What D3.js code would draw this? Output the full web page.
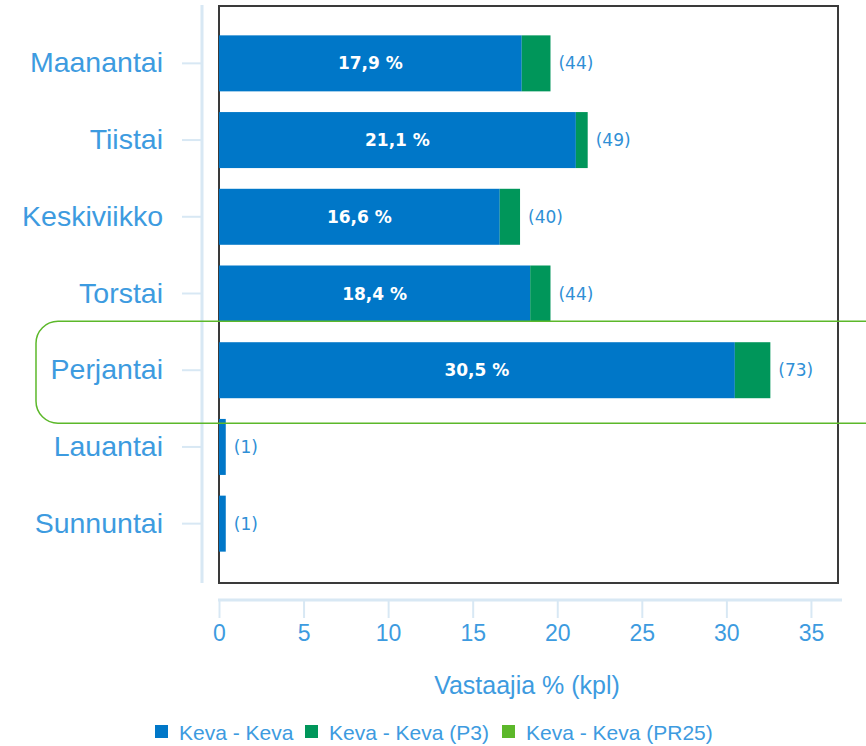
<!DOCTYPE html>
<html>
<head>
<meta charset="utf-8">
<script src="https://cdn.jsdelivr.net/npm/d3@7"></script>
<style>
  body { margin: 0; background: #fff; }
  svg { display: block; }
</style>
</head>
<body>
<div id="graph"></div>
<script>
// data
const days = ["Maanantai", "Tiistai", "Keskiviikko", "Torstai", "Perjantai", "Lauantai", "Sunnuntai"];
const kevaKeva = [17.9, 21.1, 16.6, 18.4, 30.5, 0.4, 0.4];
const kevaP3 = [1.7, 0.7, 1.2, 1.2, 2.1, 0, 0];
const kevaPR25 = [0, 0, 0, 0, 0, 0, 0];
const counts = [44, 49, 40, 44, 73, 1, 1];
const xTicks = [0, 5, 10, 15, 20, 25, 30, 35];
const seriesNames = ["Keva - Keva", "Keva - Keva (P3)", "Keva - Keva (PR25)"];
const seriesColors = ["#0077c8", "#00965a", "#5cb82a"];
const highlightDay = "Perjantai";

const width = 866, height = 746;
const box = { left: 219, top: 6, right: 838, bottom: 583 };
const textBlue = "#3d9be0";
const axisBlue = "#d8e8f4";

const svg = d3.select("#graph")
    .append("svg")
    .attr("width", width)
    .attr("height", height);

const x = d3.scaleLinear().domain([0, 36.6]).range([box.left, box.right]);
const y = d3.scaleBand().domain(days).range([25, 562]).paddingInner(0.27).paddingOuter(0.135);

// stack the three series
const rows = days.map((d, i) => ({ day: d, s0: kevaKeva[i], s1: kevaP3[i], s2: kevaPR25[i], n: counts[i] }));
const stacked = d3.stack().keys(["s0", "s1", "s2"])(rows);

// plot frame
svg.append("rect")
    .attr("x", box.left)
    .attr("y", box.top)
    .attr("width", box.right - box.left)
    .attr("height", box.bottom - box.top)
    .attr("fill", "#fff")
    .attr("stroke", "#3a3a3a")
    .attr("stroke-width", 2);

// y axis (line + ticks drawn by d3.axisLeft)
const yAxis = svg.append("g")
    .attr("transform", "translate(202,0)")
    .call(d3.axisLeft(y).tickSize(20).tickSizeOuter(0).tickPadding(19));
yAxis.select(".domain").attr("stroke", axisBlue).attr("stroke-width", 3)
    .attr("d", "M0," + (box.top - 1) + "V" + box.bottom);
yAxis.selectAll(".tick line").attr("stroke", axisBlue).attr("stroke-width", 2);
yAxis.selectAll(".tick text")
    .attr("fill", textBlue)
    .style("font-family", "'Liberation Sans', Arial, sans-serif")
    .style("font-size", "28.5px");

// x axis
const xAxis = svg.append("g")
    .attr("transform", "translate(0,600)")
    .call(d3.axisBottom(x).tickValues(xTicks).tickSize(18).tickSizeOuter(0).tickPadding(7));
xAxis.select(".domain").attr("stroke", axisBlue).attr("stroke-width", 3)
    .attr("d", "M" + (box.left - 1) + ",0H842");
xAxis.selectAll(".tick line").attr("stroke", axisBlue).attr("stroke-width", 2);
xAxis.selectAll(".tick text")
    .attr("fill", textBlue)
    .style("font-family", "'Liberation Sans', Arial, sans-serif")
    .style("font-size", "23px");

svg.append("text")
    .attr("x", 527)
    .attr("y", 694)
    .attr("text-anchor", "middle")
    .attr("fill", textBlue)
    .style("font-family", "'Liberation Sans', Arial, sans-serif")
    .style("font-size", "25px")
    .text("Vastaajia % (kpl)");

// bars
svg.append("g").selectAll("g")
    .data(stacked)
    .join("g")
    .attr("fill", (d, i) => seriesColors[i])
    .selectAll("rect")
    .data(d => d.filter(p => p[1] > p[0]))
    .join("rect")
    .attr("x", d => x(d[0]))
    .attr("y", d => y(d.data.day))
    .attr("width", d => x(d[1]) - x(d[0]))
    .attr("height", y.bandwidth());

// percentage labels inside the blue bars
svg.append("g").selectAll("text")
    .data(rows.filter(r => r.s0 > 5))
    .join("text")
    .attr("x", d => (x(0) + x(d.s0)) / 2)
    .attr("y", d => y(d.day) + y.bandwidth() / 2)
    .attr("dy", "0.36em")
    .attr("text-anchor", "middle")
    .attr("fill", "#fff")
    .style("font-family", "'DejaVu Sans', Verdana, sans-serif")
    .style("font-weight", "bold")
    .style("font-size", "17px")
    .text(d => d3.format(".1f")(d.s0).replace(".", ",") + " %");

// counts after the bars
svg.append("g").selectAll("text")
    .data(rows)
    .join("text")
    .attr("x", d => x(d.s0 + d.s1 + d.s2) + 8)
    .attr("y", d => y(d.day) + y.bandwidth() / 2)
    .attr("dy", "0.36em")
    .attr("fill", "#2f8fd6")
    .style("font-family", "'DejaVu Sans', Verdana, sans-serif")
    .style("font-size", "17px")
    .text(d => "(" + d.n + ")");

// green highlight round the friday row
svg.append("rect")
    .attr("x", 36)
    .attr("y", y(highlightDay) - 21)
    .attr("width", 860)
    .attr("height", y.bandwidth() + 46)
    .attr("rx", 22)
    .attr("fill", "none")
    .attr("stroke", "#5cb82a")
    .attr("stroke-width", 1.5);

// legend
const legendX = [155, 305, 502];
const legend = svg.append("g").selectAll("g")
    .data(seriesNames)
    .join("g")
    .attr("transform", (d, i) => "translate(" + legendX[i] + ",732)");
legend.append("rect")
    .attr("x", 0).attr("y", -7)
    .attr("width", 13).attr("height", 13)
    .attr("fill", (d, i) => seriesColors[i]);
legend.append("text")
    .attr("x", 24)
    .attr("dy", "0.36em")
    .attr("fill", textBlue)
    .style("font-family", "'Liberation Sans', Arial, sans-serif")
    .style("font-size", "21px")
    .text(d => d);
</script>
</body>
</html>
